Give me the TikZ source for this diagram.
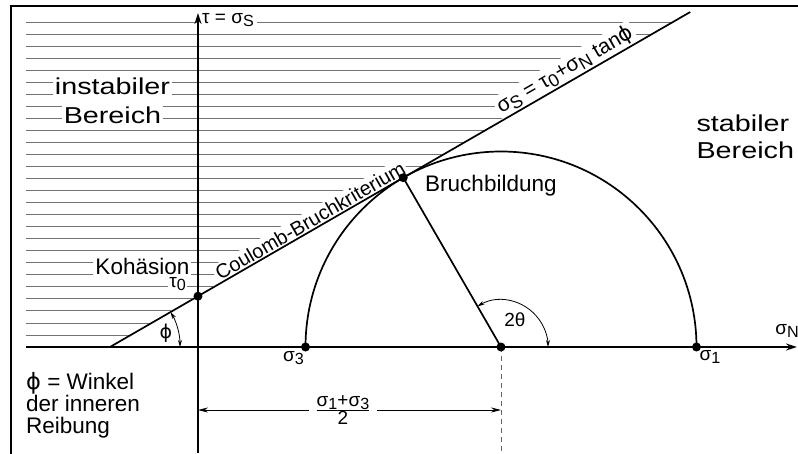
\documentclass[tikz,border=0pt]{standalone}
\usepackage{fontspec}
\setmainfont{Liberation Sans}
\newfontfamily\phifont{DejaVu Sans}
\usepackage{tikz}
\usetikzlibrary{arrows.meta,positioning,calc}

\newcommand{\gphi}{{\phifont ϕ}}
\newcommand{\ix}[1]{\raisebox{-0.35ex}{\scalebox{0.85}{#1}}}
\newcommand{\wide}[1]{\scalebox{1.25}[1]{#1}}

\begin{document}
\begin{tikzpicture}[x=1pt, y=1pt,
    heavy/.style={line width=1.7pt},
    axis/.style={line width=1.6pt, -{Stealth[length=11pt, width=7pt]}},
    hatch/.style={line width=0.9pt, black!55},
    dot/.style={circle, fill=black, inner sep=0pt, minimum size=9pt},
    mask/.style={fill=white, inner sep=2pt},
    txt/.style={font=\fontsize{22.5}{22}\selectfont},
    big/.style={font=\fontsize{23}{28}\selectfont},
    lab/.style={font=\fontsize{19}{20}\selectfont},
    tilt/.style={font=\fontsize{20}{20}\selectfont, rotate=30, anchor=south},
    gauge/.style={line width=0.8pt, -{Stealth[length=10pt, width=5pt]}},
    angarc/.style={line width=0.8pt, {Stealth[length=7pt, width=4pt]}-{Stealth[length=7pt, width=4pt]}},
    drop/.style={line width=0.8pt, black!60, dash pattern=on 5pt off 4pt}
]
    \useasboundingbox (-198,-106) rectangle (600,347);
    % Frame
    \draw[line width=2pt] (-187,-120) |- (620,341);

    % Key points
    \coordinate (O) at (0,0);
    \coordinate (P) at (-88,0);
    \coordinate (E) at ($(P)+(30:670pt)$);
    \coordinate (T0) at (0,50.8);
    \coordinate (C) at (303,0);
    \coordinate (S3) at (107.5,0);
    \coordinate (S1) at (498.5,0);
    \coordinate (T) at ($(C)+(120:195.5pt)$);
    \coordinate (Ytop) at (0,334);
    \coordinate (Ybot) at (0,-106);
    \coordinate (Xl) at (-172,0);
    \coordinate (Xr) at (599,0);
    \coordinate (D1) at (0,-63);
    \coordinate (D2) at (C |- D1);

    % Hatching of the unstable region
    \foreach \k in {0,...,26}{
        \pgfmathsetmacro{\hy}{12+12.04*\k}
        \draw[hatch] (-172,\hy) -- ({-89.5+1.7321*\hy},\hy);
    }

    % Region labels
    \node[big, mask, anchor=base] (inst) at (-85.5,252.7) {\wide{instabiler}};
    \node[big, mask, below=29pt of inst.base, anchor=base] (instb) {\wide{Bereich}};
    \node[big, anchor=base west] (stab) at (495,215.3) {\wide{stabiler}};
    \node[big, below=26.6pt of stab.base west, anchor=base west] (stabb) {\wide{Bereich}};

    % Line labels
    \node[lab, mask, anchor=west, inner sep=3pt] (tauS) at (1,327) {τ = σ\ix{S}};
    \node[txt, mask, anchor=base west] (koh) at (-104.7,72.7) {Kohäsion};
    \node[lab, mask, inner sep=1pt] (tau0) at (-20.5,63) {τ\ix{0}};
    \node[tilt, mask] (coul) at ($(P)!0.353!(E)$) {Coulomb-Bruchkriterium};
    \node[tilt, mask, font=\fontsize{21}{21}\selectfont] (law) at ($(P)!0.795!(E)$) {σ\ix{S} = τ\ix{0}+σ\ix{N} tan\gphi};

    % Axes and Coulomb line
    \draw[axis] (Ybot) -- (Ytop);
    \draw[axis] (Xl) -- (Xr);
    \draw[heavy] (P) -- (E);

    % Mohr circle
    \draw[heavy] (S1) arc[start angle=0, end angle=180, radius=195.5pt];
    \draw[heavy] (C) -- (T);
    \draw[drop] (C) -- (C |- Ybot);

    % Angles
    \draw[angarc] ($(P)+(30:70pt)$) arc[start angle=30, end angle=0, radius=70pt];
    \draw[angarc] ($(C)+(120:47pt)$) arc[start angle=120, end angle=0, radius=47pt];
    \node[lab] (phi) at (-32,14) {\gphi};
    \node[lab] (twoth) at (317,27) {2θ};

    % Points
    \node[dot] (dT0) at (T0) {};
    \node[dot] (dT) at (T) {};
    \node[dot] (dS3) at (S3) {};
    \node[dot] (dC) at (C) {};
    \node[dot] (dS1) at (S1) {};
    \node[lab] (s3) at (95.5,-11) {σ\ix{3}};
    \node[lab] (s1) at (512,-10) {σ\ix{1}};
    \node[lab] (sN) at (589,16) {σ\ix{N}};
    \node[txt, anchor=base west] (bruch) at (223.7,155.3) {Bruchbildung};

    % Distance to centre
    \node[lab, fill=white, inner sep=6pt] (frac) at (145,-63) {$\frac{\mbox{σ\ix{1}+σ\ix{3}}}{\mbox{2}}$};
    \draw[gauge] (frac) -- (D1);
    \draw[gauge] (frac) -- (D2);

    % Legend
    \node[txt, anchor=north west, align=left, inner sep=0pt] (legend) at (-172,-25) {\gphi{} = Winkel\\der inneren\\Reibung};
\end{tikzpicture}
\end{document}
